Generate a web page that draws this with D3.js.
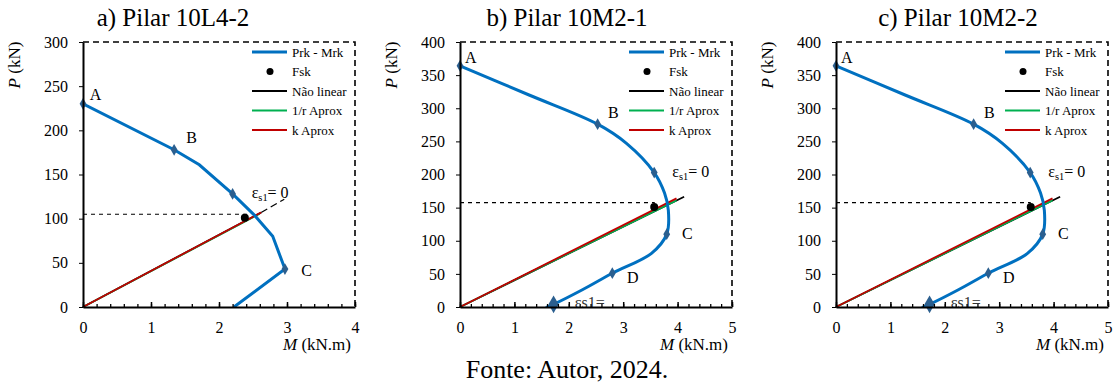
<!DOCTYPE html>
<html>
<head>
<meta charset="utf-8">
<title>Pilares P-M</title>
<script src="https://d3js.org/d3.v7.min.js"></script>
<style>
  body { margin: 0; background: #fff; }
  svg { display: block; }
  text { font-family: "Liberation Serif", "Times New Roman", "DejaVu Serif", serif; fill: #000; }
  .axis text { font-size: 16px; }
  .axis path, .axis line { stroke: #000; }
</style>
</head>
<body>
<svg id="chart" width="1118" height="387"></svg>
<script>
// ---- data ----
const panelTitles = ["a) Pilar 10L4-2", "b) Pilar 10M2-1", "c) Pilar 10M2-2"];
const xMaxes = [4, 5, 5];
const yMaxes = [300, 400, 400];
const yStep = [50, 50, 50];

// Prk - Mrk interaction curves [M, P]
const prkA = [[0, 230], [1.34, 178], [1.71, 161], [2.20, 128], [2.52, 104], [2.79, 80], [2.97, 43], [2.22, 0]];
const prkB = [[0, 364], [1.27, 320], [2.53, 276], [3.06, 247], [3.57, 203], [3.76, 172], [3.83, 146], [3.80, 110], [3.52, 81], [2.80, 51], [2.25, 26], [1.72, 4], [1.58, -1]];
const prkC = prkB;

// marked points on the curves
const marksA = [[0, 230], [1.34, 178], [2.20, 128], [2.97, 43]];
const marksB = [[0, 364], [2.53, 276], [3.57, 203], [3.80, 110], [2.80, 51]];
const marksC = marksB;
const endMarkB = [1.72, 4];

// Fsk points and their P level
const fskA = [2.38, 101];
const fskB = [3.57, 151];
const fskC = [3.58, 151];
const fskLevel = [[105, 2.45], [157.5, 3.58], [157.5, 3.58]];

// load lines (start at origin)
const nonLinear = [[2.62, 107], [4.12, 166.5], [4.12, 166.5]];
const nonLinearExt = [[2.96, 122], null, null];
const rAprox = [[2.60, 105.5], [3.98, 161], [3.98, 161]];
const kAprox = [[2.62, 107], [3.98, 164], [3.98, 164]];

// point labels [text, M, P]
const labelsA = [["A", 0.10, 234], ["B", 1.52, 186], ["C", 3.21, 35]];
const labelsB = [["A", 0.09, 368], ["B", 2.72, 285], ["C", 4.08, 103], ["D", 3.07, 36]];
const epsLabels = [[2.48, 123], [3.90, 196], [3.90, 196]];
const epsBottom = [null, [2.11, -2], [2.11, -2]];

const legendItems = ["Prk - Mrk", "Fsk", "Não linear", "1/r Aprox", "k Aprox"];

// ---- layout ----
const panelLeft = [83, 460, 836];
const plotW = 272, plotTop = 42, plotBottom = 307;
const titleX = [173, 567, 958];
const blue = "#0070C0", markBlue = "#2b5f8f", green = "#00B050", red = "#C00000";

const svg = d3.select("#chart");

const panels = [
  { prk: prkA, marks: marksA, fsk: fskA, labels: labelsA, endMark: null },
  { prk: prkB, marks: marksB, fsk: fskB, labels: labelsB, endMark: endMarkB },
  { prk: prkC, marks: marksC, fsk: fskC, labels: labelsB, endMark: endMarkB }
];

panels.forEach((p, i) => {
  const x = d3.scaleLinear().domain([0, xMaxes[i]]).range([panelLeft[i], panelLeft[i] + plotW]);
  const y = d3.scaleLinear().domain([0, yMaxes[i]]).range([plotBottom, plotTop]);
  const g = svg.append("g");
  const clipId = "clip" + i;

  svg.append("clipPath").attr("id", clipId)
    .append("rect")
    .attr("x", x(0)).attr("y", y(yMaxes[i]))
    .attr("width", x(xMaxes[i]) - x(0)).attr("height", y(0) - y(yMaxes[i]) + 1);

  // title
  g.append("text")
    .attr("x", titleX[i]).attr("y", 26)
    .attr("text-anchor", "middle")
    .style("font-size", "25px")
    .text(panelTitles[i]);

  // dashed top / right border
  g.append("path")
    .attr("d", `M${x(0)},${y(yMaxes[i])}H${x(xMaxes[i])}V${y(0)}`)
    .attr("fill", "none").attr("stroke", "#000")
    .attr("stroke-width", 1.6).attr("stroke-dasharray", "6,4");

  // Fsk dashed level
  g.append("line")
    .attr("x1", x(0)).attr("x2", x(fskLevel[i][1]))
    .attr("y1", y(fskLevel[i][0])).attr("y2", y(fskLevel[i][0]))
    .attr("stroke", "#000").attr("stroke-width", 1.2).attr("stroke-dasharray", "4,4");

  const line = d3.line().x(d => x(d[0])).y(d => y(d[1]));

  // load lines
  g.append("path").datum([[0, 0], nonLinear[i]]).attr("d", line)
    .attr("stroke", "#000").attr("stroke-width", 1.8).attr("fill", "none");
  if (nonLinearExt[i]) {
    g.append("path").datum([nonLinear[i], nonLinearExt[i]]).attr("d", line)
      .attr("stroke", "#000").attr("stroke-width", 1.3).attr("fill", "none")
      .attr("stroke-dasharray", "7,4");
  }
  g.append("path").datum([[0, 0], rAprox[i]]).attr("d", line)
    .attr("stroke", green).attr("stroke-width", 1.8).attr("fill", "none");
  g.append("path").datum([[0, 0], kAprox[i]]).attr("d", line)
    .attr("stroke", red).attr("stroke-width", 1.8).attr("fill", "none");

  // Prk - Mrk curve
  const curveLine = d3.line().x(d => x(d[0])).y(d => y(d[1]))
    .curve(i === 0 ? d3.curveLinear : d3.curveCatmullRom.alpha(0.5));
  g.append("path").datum(p.prk).attr("d", curveLine)
    .attr("clip-path", `url(#${clipId})`)
    .attr("stroke", blue).attr("stroke-width", 3).attr("fill", "none");

  const diamond = d3.symbol().type(d3.symbolDiamond);
  g.selectAll(".mk").data(p.marks).enter().append("path")
    .attr("transform", d => `translate(${x(d[0])},${y(d[1])})`)
    .attr("d", diamond.size(40)())
    .attr("fill", markBlue);
  if (p.endMark) {
    g.append("path")
      .attr("transform", `translate(${x(p.endMark[0])},${y(p.endMark[1])})`)
      .attr("d", d3.symbol().type(d3.symbolDiamond).size(90)())
      .attr("fill", markBlue);
  }

  // Fsk point
  g.append("circle").attr("cx", x(p.fsk[0])).attr("cy", y(p.fsk[1])).attr("r", 4).attr("fill", "#000");

  // point labels
  g.selectAll(".lb").data(p.labels).enter().append("text")
    .attr("x", d => x(d[1])).attr("y", d => y(d[2]))
    .style("font-size", "16px")
    .text(d => d[0]);

  const epsText = (sel, size) => {
    sel.append("tspan").text("ε");
    sel.append("tspan").text("s1").style("font-size", (size * 0.65) + "px").attr("dy", 3);
    sel.append("tspan").text("= 0").attr("dy", -3);
  };
  const eps = g.append("text").attr("x", x(epsLabels[i][0])).attr("y", y(epsLabels[i][1]))
    .style("font-size", "16px");
  epsText(eps, 16);

  if (epsBottom[i]) {
    g.append("text").attr("x", x(epsBottom[i][0])).attr("y", y(epsBottom[i][1]))
      .attr("clip-path", `url(#${clipId})`)
      .style("font-size", "16px").style("fill", "#333")
      .text("εs1=");
  }

  // axes
  const xAxis = g.append("g").attr("class", "axis")
    .attr("transform", `translate(0,${y(0)})`)
    .call(d3.axisBottom(x).tickValues(d3.range(0, xMaxes[i] + 0.01, 1))
      .tickSize(-5).tickSizeOuter(0).tickPadding(15).tickFormat(d3.format("d")));
  xAxis.select(".domain").attr("stroke-width", 2);
  xAxis.selectAll(".tick line").attr("stroke-width", 1.5);

  g.append("g").attr("class", "axis")
    .attr("transform", `translate(0,${y(0)})`)
    .call(d3.axisBottom(x).tickValues(d3.range(0, xMaxes[i] + 0.01, 0.2))
      .tickSize(-3).tickSizeOuter(0).tickFormat(""))
    .call(a => a.select(".domain").remove())
    .selectAll(".tick line").attr("stroke-width", 1.3);

  const yAxis = g.append("g").attr("class", "axis")
    .attr("transform", `translate(${x(0)},0)`)
    .call(d3.axisLeft(y).tickValues(d3.range(0, yMaxes[i] + 1, yStep[i]))
      .tickSize(4).tickSizeOuter(0).tickPadding(11));
  yAxis.select(".domain").attr("stroke-width", 2);

  // axis titles
  const yt = g.append("text")
    .attr("transform", `translate(${x(0) - 63},${(plotTop + 88) / 2}) rotate(-90)`)
    .attr("text-anchor", "middle").style("font-size", "17px");
  yt.append("tspan").text("P").style("font-style", "italic");
  yt.append("tspan").text(" (kN)");

  const xt = g.append("text")
    .attr("x", x(xMaxes[i]) - 4).attr("y", 350)
    .attr("text-anchor", "end").style("font-size", "17px");
  xt.append("tspan").text("M").style("font-style", "italic");
  xt.append("tspan").text(" (kN.m)");

  // legend
  const lgX = x(xMaxes[i]) - 103;
  const lg = g.append("g");
  legendItems.forEach((name, j) => {
    const ly = 52 + j * 19.5;
    if (j === 1) {
      lg.append("circle").attr("cx", lgX + 18).attr("cy", ly).attr("r", 3.5).attr("fill", "#000");
    } else {
      const col = [blue, null, "#000", green, red][j];
      lg.append("line").attr("x1", lgX).attr("x2", lgX + 35).attr("y1", ly).attr("y2", ly)
        .attr("stroke", col).attr("stroke-width", j === 0 ? 3 : 2);
    }
    lg.append("text").attr("x", lgX + 40).attr("y", ly + 4.5)
      .style("font-size", "13px").text(name);
  });
});

// source caption
svg.append("text")
  .attr("x", 567).attr("y", 378)
  .attr("text-anchor", "middle")
  .style("font-size", "26px")
  .text("Fonte: Autor, 2024.");
</script>
</body>
</html>
